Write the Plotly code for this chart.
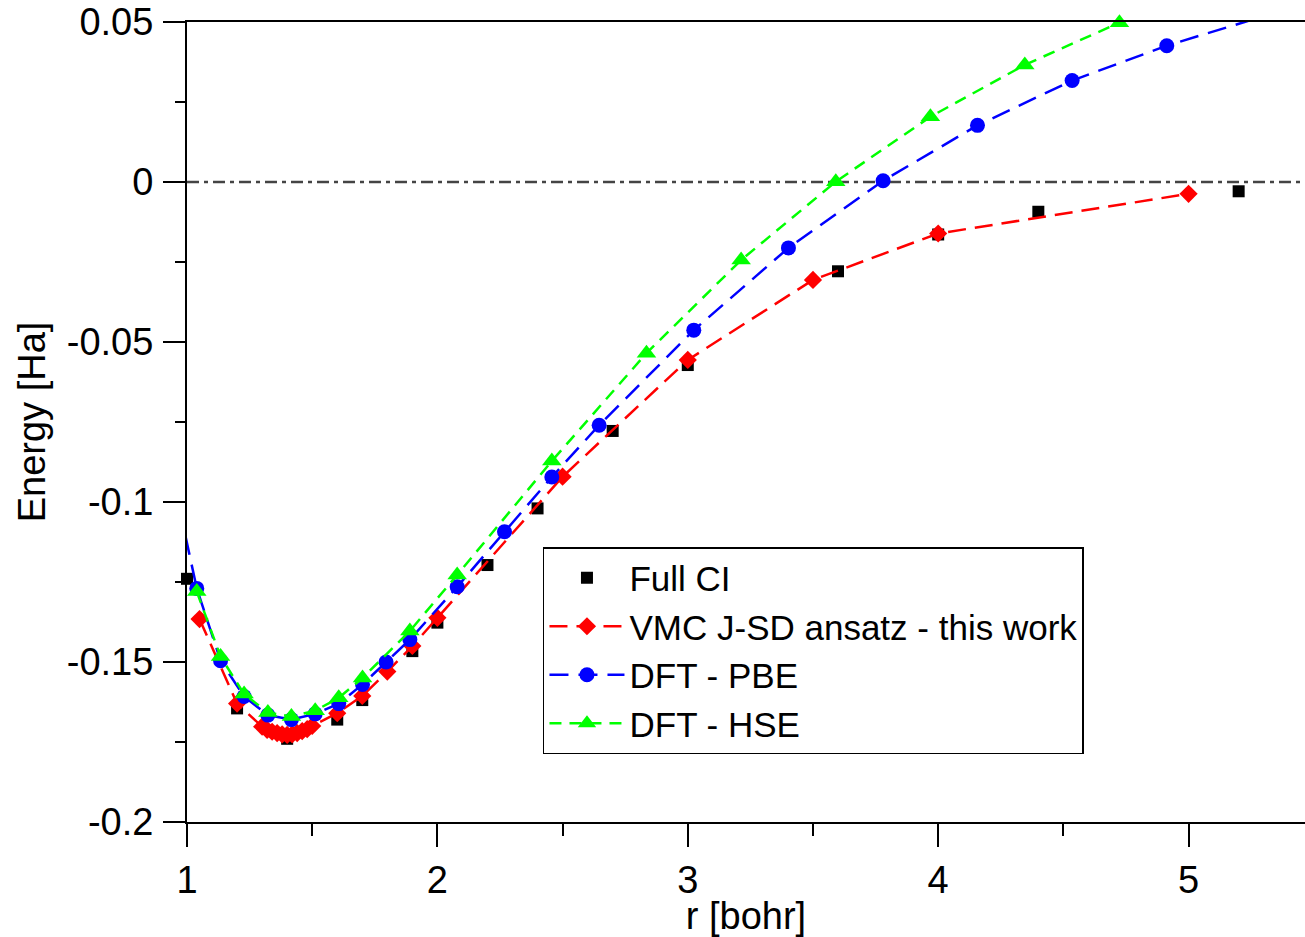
import plotly.graph_objects as go

# ---- data (r in bohr, energy in Ha) ----
fci_r = [1.0, 1.2, 1.4, 1.6, 1.7, 1.9, 2.0, 2.2, 2.4, 2.7, 3.0, 3.6, 4.0, 4.4, 5.2]
fci_e = [-0.1240, -0.1645, -0.1740, -0.1680, -0.1619, -0.1466, -0.1377, -0.1197,
         -0.1020, -0.0778, -0.0572, -0.0279, -0.0164, -0.0093, -0.0029]

vmc_r = [1.05, 1.2, 1.30, 1.32, 1.34, 1.36, 1.38, 1.40, 1.42, 1.44, 1.46, 1.48, 1.50,
         1.6, 1.7, 1.8, 1.9, 2.0, 2.5, 3.0, 3.5, 4.0, 5.0]
vmc_e = [-0.1366, -0.1630, -0.1702, -0.1712, -0.1718, -0.1722, -0.1726, -0.1728,
         -0.1726, -0.1722, -0.1716, -0.1710, -0.1700, -0.1660, -0.1606, -0.1530,
         -0.1450, -0.1362, -0.0921, -0.0556, -0.0306, -0.0161, -0.0037]

pbe_r = [0.945, 1.039, 1.134, 1.228, 1.323, 1.417, 1.512, 1.606, 1.701, 1.795, 1.890,
         2.079, 2.268, 2.457, 2.646, 3.024, 3.402, 3.780, 4.157, 4.535, 4.913, 5.291]
pbe_e = [-0.0930, -0.1270, -0.1496, -0.1608, -0.1666, -0.1680, -0.1662, -0.1630,
         -0.1570, -0.1500, -0.1430, -0.1265, -0.1093, -0.0922, -0.0760, -0.0463,
         -0.0206, 0.0004, 0.0177, 0.0317, 0.0426, 0.0516]

hse_r = [1.039, 1.134, 1.228, 1.323, 1.417, 1.512, 1.606, 1.701, 1.890, 2.079, 2.457,
         2.835, 3.213, 3.591, 3.969, 4.346, 4.724]
hse_e = [-0.1280, -0.1483, -0.1600, -0.1658, -0.1670, -0.1652, -0.1612, -0.1550,
         -0.1403, -0.1228, -0.0872, -0.0535, -0.0244, 0.0001, 0.0204, 0.0366, 0.0498]

y_tickvals = [0.05, 0.0, -0.05, -0.1, -0.15, -0.2]
y_ticktext = ["0.05", "0", "-0.05", "-0.1", "-0.15", "-0.2"]
x_tickvals = [1, 2, 3, 4, 5]
x_ticktext = ["1", "2", "3", "4", "5"]

FONT = "Liberation Sans, Arial, Helvetica, sans-serif"

fig = go.Figure()

fig.add_trace(go.Scatter(
    x=fci_r, y=fci_e, mode="markers", name="Full CI",
    marker=dict(symbol="square", size=12, color="black"),
    cliponaxis=False))

fig.add_trace(go.Scatter(
    x=vmc_r, y=vmc_e, mode="lines+markers", name="VMC J-SD ansatz - this work",
    line=dict(color="#ff0000", width=2.5, dash="18px,9px"),
    marker=dict(symbol="diamond", size=14, color="#ff0000"),
    cliponaxis=False))

fig.add_trace(go.Scatter(
    x=pbe_r, y=pbe_e, mode="lines+markers", name="DFT - PBE",
    line=dict(color="#0000ff", width=2.5, dash="19px,10px"),
    marker=dict(symbol="circle", size=15, color="#0000ff"),
    cliponaxis=True))

fig.add_trace(go.Scatter(
    x=hse_r, y=hse_e, mode="lines+markers", name="DFT - HSE",
    line=dict(color="#00ff00", width=2.5, dash="12px,8px"),
    marker=dict(symbol="triangle-up", size=17, color="#00ff00"),
    cliponaxis=False))

# zero reference line
fig.add_shape(type="line", xref="paper", yref="y", x0=0, x1=1, y0=0, y1=0,
              line=dict(color="#444444", width=2.5, dash="12px,5px,4px,5px"),
              layer="below")

fig.update_layout(
    width=1305, height=937,
    margin=dict(l=187, r=0, t=22, b=115),
    paper_bgcolor="white", plot_bgcolor="white",
    font=dict(family=FONT, size=38, color="black"),
    showlegend=True,
    legend=dict(
        x=0.3184, y=0.34375, xanchor="left", yanchor="top",
        bgcolor="white", bordercolor="black", borderwidth=1.5,
        font=dict(family=FONT, size=35, color="black"),
        itemwidth=75, tracegroupgap=0,
    ),
    xaxis=dict(
        range=[1, 5.465], showgrid=False, zeroline=False,
        showline=True, linecolor="black", linewidth=2, mirror=True,
        ticks="outside", ticklen=23, tickwidth=1.5, tickcolor="black",
        tickvals=x_tickvals, ticktext=x_ticktext,
        minor=dict(dtick=0.5, tick0=1, ticks="outside", ticklen=12,
                   tickwidth=1.5, tickcolor="black"),
        tickfont=dict(size=38),
        title=dict(text="r [bohr]", font=dict(size=38), standoff=8),
    ),
    yaxis=dict(
        range=[-0.2, 0.05], showgrid=False, zeroline=False,
        showline=True, linecolor="black", linewidth=2, mirror=False,
        ticks="outside", ticklen=22, tickwidth=1.5, tickcolor="black",
        tickvals=y_tickvals, ticktext=y_ticktext,
        minor=dict(dtick=0.025, tick0=0, ticks="outside", ticklen=10,
                   tickwidth=1.5, tickcolor="black"),
        tickfont=dict(size=38), ticklabelstandoff=2,
        title=dict(text="Energy [Ha]", font=dict(size=38), standoff=9),
    ),
)

fig.write_html("out.html")
